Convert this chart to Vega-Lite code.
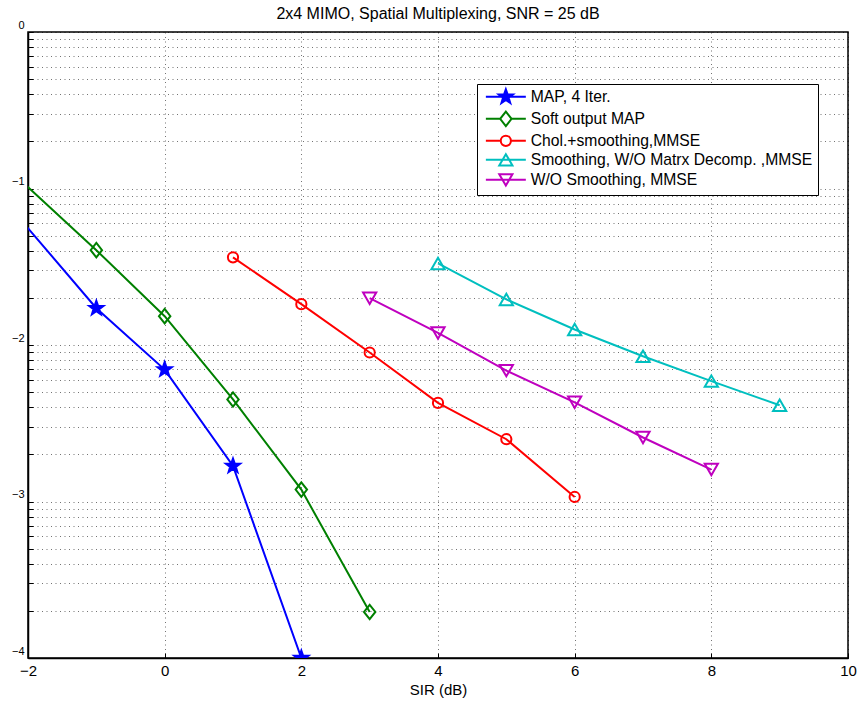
{
  "$schema": "https://vega.github.io/schema/vega-lite/v6.json",
  "autosize": {"type": "none"},
  "width": 820,
  "height": 626,
  "padding": {"left": 28, "top": 32, "right": 10, "bottom": 44},
  "background": "white",
  "title": {"text": "2x4 MIMO, Spatial Multiplexing, SNR = 25 dB", "fontSize": 16, "font": "Liberation Sans", "fontWeight": "normal", "color": "black", "offset": -3, "anchor": "middle"},
  "config": {
    "view": {"stroke": "black", "strokeWidth": 1.5},
    "font": "Liberation Sans",
    "axis": {
      "domainColor": "black", "domainWidth": 1.5,
      "tickColor": "black", "tickSize": -5,
      "grid": true, "gridColor": "black", "gridOpacity": 0.55, "gridDash": [1, 3.5], "gridWidth": 1,
      "labelColor": "black", "labelFont": "Liberation Sans",
      "titleColor": "black", "titleFont": "Liberation Sans", "titleFontWeight": "normal"
    },
    "legend": {
      "title": null, "orient": "none", "legendX": 449, "legendY": 52, "direction": "vertical",
      "strokeColor": "black", "fillColor": "white", "padding": 5,
      "labelFontSize": 15.7, "labelFont": "Liberation Sans", "labelColor": "black", "labelLimit": 400,
      "symbolSize": 144, "symbolStrokeWidth": 2, "rowPadding": 0, "symbolOffset": 16, "labelOffset": 17
    }
  },
  "data": {"values": [
    {"series": "MAP, 4 Iter.", "sir": -3, "ber": 0.1811},
    {"series": "MAP, 4 Iter.", "sir": -1, "ber": 0.01718},
    {"series": "MAP, 4 Iter.", "sir": 0, "ber": 0.006966},
    {"series": "MAP, 4 Iter.", "sir": 1, "ber": 0.001687},
    {"series": "MAP, 4 Iter.", "sir": 2, "ber": 0.0001},
    {"series": "Soft output MAP", "sir": -3, "ber": 0.2582},
    {"series": "Soft output MAP", "sir": -1, "ber": 0.04036},
    {"series": "Soft output MAP", "sir": 0, "ber": 0.01528},
    {"series": "Soft output MAP", "sir": 1, "ber": 0.004487},
    {"series": "Soft output MAP", "sir": 2, "ber": 0.001191},
    {"series": "Soft output MAP", "sir": 3, "ber": 0.0001968},
    {"series": "Chol.+smoothing,MMSE", "sir": 1, "ber": 0.03631},
    {"series": "Chol.+smoothing,MMSE", "sir": 2, "ber": 0.01824},
    {"series": "Chol.+smoothing,MMSE", "sir": 3, "ber": 0.008954},
    {"series": "Chol.+smoothing,MMSE", "sir": 4, "ber": 0.004266},
    {"series": "Chol.+smoothing,MMSE", "sir": 5, "ber": 0.0025},
    {"series": "Chol.+smoothing,MMSE", "sir": 6, "ber": 0.001069},
    {"series": "Smoothing, W/O Matrx Decomp. ,MMSE", "sir": 4, "ber": 0.03319},
    {"series": "Smoothing, W/O Matrx Decomp. ,MMSE", "sir": 5, "ber": 0.01954},
    {"series": "Smoothing, W/O Matrx Decomp. ,MMSE", "sir": 6, "ber": 0.01256},
    {"series": "Smoothing, W/O Matrx Decomp. ,MMSE", "sir": 7, "ber": 0.008472},
    {"series": "Smoothing, W/O Matrx Decomp. ,MMSE", "sir": 8, "ber": 0.005875},
    {"series": "Smoothing, W/O Matrx Decomp. ,MMSE", "sir": 9, "ber": 0.004121},
    {"series": "W/O Smoothing, MMSE", "sir": 3, "ber": 0.01991},
    {"series": "W/O Smoothing, MMSE", "sir": 4, "ber": 0.01194},
    {"series": "W/O Smoothing, MMSE", "sir": 5, "ber": 0.006855},
    {"series": "W/O Smoothing, MMSE", "sir": 6, "ber": 0.004305},
    {"series": "W/O Smoothing, MMSE", "sir": 7, "ber": 0.002564},
    {"series": "W/O Smoothing, MMSE", "sir": 8, "ber": 0.0016}
  ]},
  "encoding": {
    "x": {"field": "sir", "type": "quantitative", "scale": {"domain": [-2, 10], "nice": false, "zero": false},
      "axis": {"title": "SIR (dB)", "titleFontSize": 15, "titlePadding": 4, "labelFontSize": 15, "labelPadding": 10, "values": [-2, 0, 2, 4, 6, 8, 10], "labelFlush": false}},
    "y": {"field": "ber", "type": "quantitative", "scale": {"type": "log", "domain": [0.0001, 1], "nice": false},
      "axis": {"title": null, "tickCount": 40, "labelFontSize": 11, "labelPadding": 9, "labelOffset": -7, "labelFlush": false,
        "labelExpr": "abs(log(datum.value)/LN10 - round(log(datum.value)/LN10)) < 0.001 ? format(round(log(datum.value)/LN10), 'd') : ''"}},
    "color": {"field": "series", "type": "nominal",
      "scale": {"domain": ["MAP, 4 Iter.", "Soft output MAP", "Chol.+smoothing,MMSE", "Smoothing, W/O Matrx Decomp. ,MMSE", "W/O Smoothing, MMSE"],
        "range": ["#0000ff", "#008000", "#ff0000", "#00bfbf", "#bf00bf"]},
      "legend": {
        "encode": {"symbols": {"update": {
          "shape": {"signal": "datum.value === 'MAP, 4 Iter.' ? 'M-3.33,0H3.33M0,-1.25L0.294,-0.405L1.189,-0.386L0.476,0.155L0.735,1.011L0,0.5L-0.735,1.011L-0.476,0.155L-1.189,-0.386L-0.294,-0.405Z' : datum.value === 'Soft output MAP' ? 'M-3.33,0H-0.95M0.95,0H3.33M0,-1.2L0.95,0L0,1.2L-0.95,0Z' : datum.value === 'Chol.+smoothing,MMSE' ? 'M-3.33,0H-0.85M0.85,0H3.33M0.85,0A0.85,0.85,0,1,1,-0.85,0A0.85,0.85,0,1,1,0.85,0Z' : datum.value === 'W/O Smoothing, MMSE' ? 'M-3.33,0H3.33M0,0.95L1.1,-0.95L-1.1,-0.95Z' : 'M-3.33,0H3.33M0,-0.95L1.1,0.95L-1.1,0.95Z'"},
          "fill": {"signal": "datum.value === 'MAP, 4 Iter.' ? '#0000ff' : 'transparent'"},
          "strokeWidth": {"value": 2},
          "opacity": {"value": 1}
        }}}
      }}
  },
  "layer": [
    {
      "mark": {"type": "line", "strokeWidth": 2, "clip": true},
      "encoding": {"detail": {"field": "series"}}
    },
    {
      "mark": {"type": "point", "filled": false, "strokeWidth": 2, "size": 144, "opacity": 1, "clip": true},
      "encoding": {
        "fill": {"condition": {"test": "datum.series === 'MAP, 4 Iter.'", "value": "#0000ff"}, "value": "transparent"},
        "shape": {"field": "series", "type": "nominal", "legend": null,
          "scale": {
            "range": [
              "M0.85,0A0.85,0.85,0,1,1,-0.85,0A0.85,0.85,0,1,1,0.85,0Z",
              "M0,-1.25L0.294,-0.405L1.189,-0.386L0.476,0.155L0.735,1.011L0,0.5L-0.735,1.011L-0.476,0.155L-1.189,-0.386L-0.294,-0.405Z",
              "M0,-0.95L1.1,0.95L-1.1,0.95Z",
              "M0,-1.2L0.95,0L0,1.2L-0.95,0Z",
              "M0,0.95L1.1,-0.95L-1.1,-0.95Z"
            ]}}
      }
    }
  ]
}
